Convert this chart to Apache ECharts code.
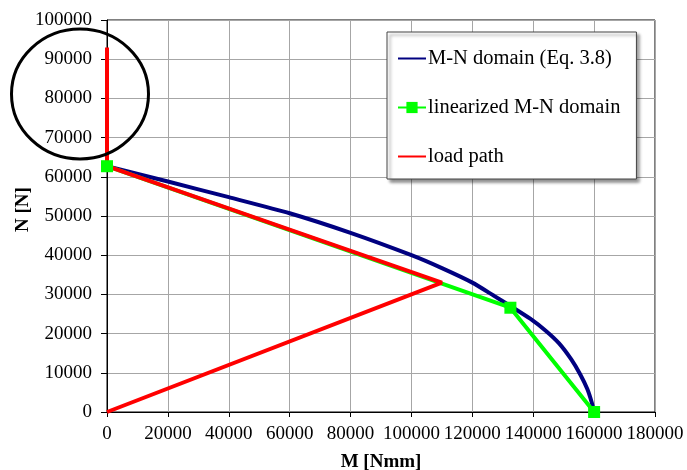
<!DOCTYPE html>
<html>
<head>
<meta charset="utf-8">
<script src="https://cdn.jsdelivr.net/npm/echarts@6/dist/echarts.min.js"></script>
<style>html,body{margin:0;padding:0;background:#fff}#c{width:687px;height:470px}</style>
</head>
<body>
<div id="c"></div>
<script>
// M-N domain (Eq. 3.8)
var domainM = [0, 20000, 40000, 60000, 80000, 100000, 110000, 120000, 127000, 133000, 139000, 144000, 148500, 152500, 155500, 157800, 159200, 160000];
var domainN = [62700, 58800, 54800, 50700, 45700, 40000, 36700, 33000, 29700, 26800, 23800, 20800, 17500, 13400, 9500, 5800, 2500, 0];
// linearized M-N domain
var linM = [0, 132500, 160000];
var linN = [62700, 26600, 0];
// load path
var loadM = [0, 110000, 0, 0];
var loadN = [0, 33000, 62700, 93000];
var seriesNames = ['M-N domain (Eq. 3.8)', 'linearized M-N domain', 'load path'];
var xTitle = 'M [Nmm]';
var yTitle = 'N [N]';

function pairs(a, b) { return a.map(function (v, i) { return [v, b[i]]; }); }
function plain(v) { return String(v); }

var font = 'Liberation Serif';
var hidden = { color: 'rgba(0,0,0,0)', borderWidth: 0, opacity: 0 };
var chart = echarts.init(document.getElementById('c'));
chart.setOption({
  animation: false,
  backgroundColor: '#fff',
  textStyle: { fontFamily: font, color: '#000' },
  grid: { left: 107, right: 32, top: 20, bottom: 58, show: true, borderColor: '#000', borderWidth: 1, backgroundColor: '#fff',
          containLabel: false, outerBoundsMode: 'none' },
  legend: {
    orient: 'vertical', left: 387, top: 32,
    padding: [16, 16, 12, 10],
    itemGap: 28, itemWidth: 28, itemHeight: 14,
    backgroundColor: '#fff', borderColor: '#444', borderWidth: 1,
    shadowColor: 'rgba(0,0,0,0.45)', shadowBlur: 3, shadowOffsetX: 3, shadowOffsetY: 3,
    textStyle: { fontFamily: font, fontSize: 20.5, color: '#000', padding: [0, 0, 0, -3] },
    data: [
      { name: seriesNames[0], itemStyle: hidden },
      { name: seriesNames[1] },
      { name: seriesNames[2], itemStyle: hidden }
    ]
  },
  xAxis: {
    type: 'value', min: 0, max: 180000, interval: 20000,
    name: xTitle, nameLocation: 'middle', nameGap: 41, nameMoveOverlap: false,
    nameTextStyle: { fontFamily: font, fontSize: 19, fontWeight: 'bold', color: '#000' },
    axisLine: { lineStyle: { color: '#000', width: 1 } },
    axisTick: { show: true, length: 5, lineStyle: { color: '#000' } },
    axisLabel: { fontFamily: font, fontSize: 19, color: '#000', margin: 13, formatter: plain },
    splitLine: { show: true, lineStyle: { color: '#a6a6a6', width: 1 } }
  },
  yAxis: {
    type: 'value', min: 0, max: 100000, interval: 10000,
    name: yTitle, nameLocation: 'middle', nameGap: 74, nameRotate: 90, nameMoveOverlap: false,
    nameTextStyle: { fontFamily: font, fontSize: 19, fontWeight: 'bold', color: '#000', padding: [0, 0, 0, 13] },
    axisLine: { show: true, lineStyle: { color: '#000', width: 1 } },
    axisTick: { show: true, length: 6, lineStyle: { color: '#000' } },
    axisLabel: { fontFamily: font, fontSize: 19, color: '#000', margin: 15, formatter: plain },
    splitLine: { show: true, lineStyle: { color: '#a6a6a6', width: 1 } }
  },
  series: [
    { name: seriesNames[0], type: 'line', data: pairs(domainM, domainN), symbol: 'none', smooth: 0.2,
      lineStyle: { color: '#000080', width: 4 }, itemStyle: { color: '#000080' } },
    { name: seriesNames[1], type: 'line', data: pairs(linM, linN), symbol: 'rect', symbolSize: 12,
      lineStyle: { color: '#00ff00', width: 4 }, itemStyle: { color: '#00ff00' } },
    { name: seriesNames[2], type: 'line', data: pairs(loadM, loadN), symbol: 'none',
      lineStyle: { color: '#ff0000', width: 4 }, itemStyle: { color: '#ff0000' } }
  ],
  graphic: [
    { type: 'ellipse', shape: { cx: 80, cy: 94, rx: 68.5, ry: 65 }, z: 100,
      style: { fill: 'none', stroke: '#000', lineWidth: 3 } }
  ]
});
</script>
</body>
</html>
